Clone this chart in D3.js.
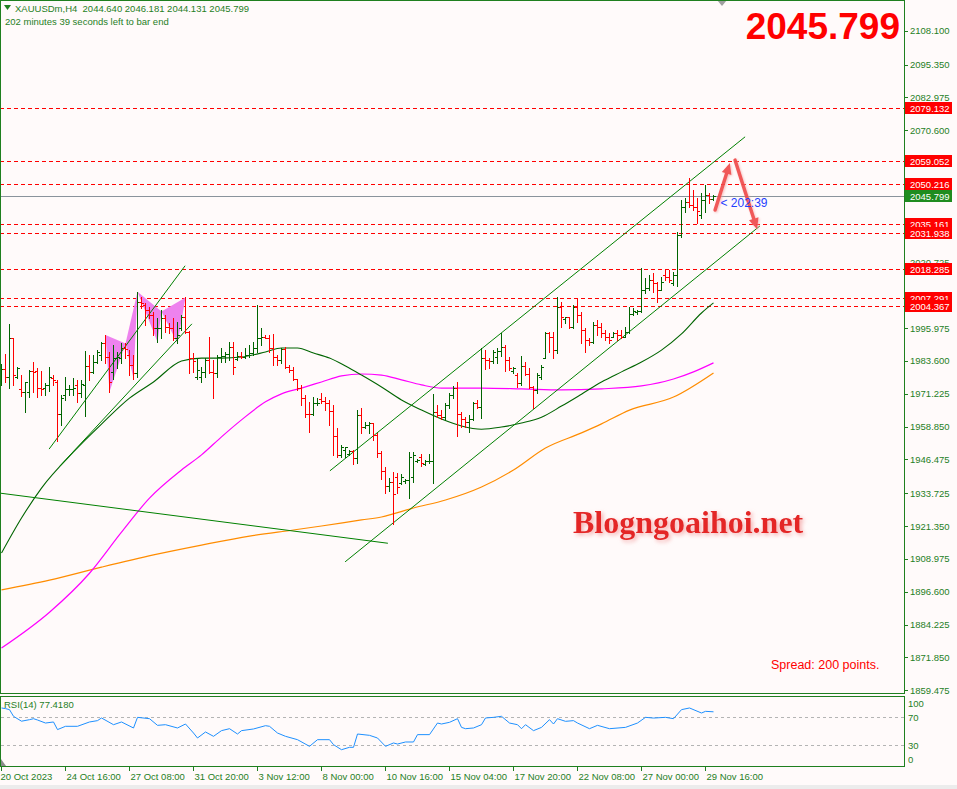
<!DOCTYPE html>
<html>
<head>
<meta charset="utf-8">
<script src="https://cdnjs.cloudflare.com/ajax/libs/d3/7.8.5/d3.min.js"></script>
<style>
body { margin: 0; background: #fffafa; }
text { font-family: "Liberation Sans", Arial, sans-serif; }
</style>
</head>
<body>
<div id="chart"></div>
<script>
// XAUUSDm H4 bars, [open, high, low, close], oldest first (20 Oct 2023 00:00 ...)
var bars = [
	[1976.0,1982.4,1974.5,1980.5],[1980.4,1986.2,1975.8,1977.6],[1977.6,1997.4,1973.3,1992.1],[1992.1,1992.4,1974.5,1978.3],
	[1977.6,1981.4,1977.2,1981.0],[1973.0,1978.5,1970.4,1971.8],[1971.8,1975.8,1964.5,1975.5],[1972.0,1980.2,1970.1,1979.8],
	[1979.8,1983.1,1972.0,1979.5],[1979.8,1980.8,1970.1,1973.5],[1973.3,1979.8,1970.7,1973.2],[1973.3,1975.2,1970.7,1974.5],
	[1974.5,1981.4,1972.2,1977.6],[1977.3,1978.3,1974.5,1976.4],[1975.8,1976.4,1953.5,1963.8],[1963.8,1970.7,1959.4,1969.5],
	[1970.7,1977.6,1968.9,1973.0],[1973.0,1974.5,1970.7,1973.2],[1973.0,1977.3,1970.7,1973.3],[1974.5,1976.4,1968.2,1971.4],
	[1971.4,1976.4,1970.1,1974.8],[1974.5,1987.3,1962.9,1981.7],[1981.7,1985.8,1976.4,1979.5],[1979.5,1985.8,1978.9,1983.1],
	[1983.1,1987.7,1983.0,1987.1],[1985.8,1990.8,1983.9,1990.2],[1990.2,1993.4,1982.7,1985.2],[1985.2,1987.1,1972.0,1975.8],
	[1979.5,1989.6,1977.0,1984.8],[1984.8,1987.1,1980.8,1985.0],[1984.8,1990.2,1982.7,1988.4],[1988.4,1990.2,1984.6,1988.1],
	[1985.8,1987.7,1978.3,1982.1],[1982.1,1985.8,1977.0,1978.9],[1978.9,2009.7,1977.6,2005.9],[2005.9,2007.8,2003.4,2005.6],
	[2004.7,2005.3,1997.1,2002.8],[2002.8,2004.0,1999.7,2000.9],[2000.9,2002.2,1993.4,1995.9],[1995.9,1999.7,1990.8,1996.2],
	[1995.9,2002.8,1992.1,1999.7],[1999.7,2000.9,1994.6,1996.5],[1996.5,1997.8,1994.0,1995.9],[1995.9,1999.7,1991.5,1992.1],
	[1992.1,1998.4,1990.2,1993.4],[1995.9,2000.9,1995.3,2000.3],[2000.3,2007.8,1994.0,1994.4],[1994.4,1994.9,1978.9,1984.8],
	[1984.8,1986.5,1979.5,1983.6],[1977.6,1984.6,1977.0,1980.2],[1977.6,1981.4,1975.5,1979.4],[1979.4,1984.6,1977.6,1983.9],
	[1983.9,1992.7,1978.9,1979.3],[1979.3,1983.9,1969.7,1978.9],[1978.9,1985.8,1977.6,1985.2],[1985.2,1988.4,1983.3,1985.6],
	[1985.6,1987.1,1983.3,1986.1],[1986.1,1990.8,1983.9,1988.9],[1988.9,1990.8,1978.7,1981.4],[1984.5,1987.1,1983.9,1985.5],
	[1985.5,1987.1,1984.6,1985.0],[1985.0,1988.4,1984.6,1985.8],[1985.8,1989.6,1985.2,1986.5],[1986.5,1990.8,1985.8,1988.4],
	[1988.4,2004.7,1987.1,1992.1],[1992.1,1995.9,1989.6,1992.7],[1992.7,1993.4,1992.1,1992.3],[1992.3,1993.4,1987.1,1988.6],
	[1988.6,1993.6,1982.1,1985.2],[1985.2,1985.8,1982.1,1983.9],[1983.9,1988.4,1982.7,1988.2],[1988.2,1988.9,1981.0,1981.4],
	[1981.4,1982.1,1979.5,1980.2],[1980.2,1981.4,1976.4,1977.0],[1977.0,1977.0,1972.6,1973.3],[1973.3,1974.5,1967.0,1969.5],
	[1969.5,1970.7,1962.6,1963.8],[1963.8,1968.2,1956.7,1963.6],[1963.6,1970.1,1963.2,1967.6],[1967.6,1969.5,1967.0,1967.8],
	[1969.2,1971.4,1967.6,1968.5],[1968.5,1970.1,1965.1,1967.6],[1967.6,1968.9,1959.4,1964.7],[1964.7,1967.0,1948.1,1955.4],
	[1955.4,1958.2,1947.5,1948.1],[1948.1,1951.9,1947.5,1951.3],[1950.0,1951.3,1947.5,1951.0],[1948.6,1950.0,1948.1,1949.6],
	[1949.6,1950.0,1944.6,1946.9],[1946.9,1965.1,1945.0,1963.2],[1963.2,1965.7,1956.3,1958.8],[1958.8,1960.7,1958.2,1959.5],
	[1959.5,1960.7,1956.3,1960.1],[1960.1,1960.1,1953.8,1955.7],[1955.7,1956.4,1947.4,1949.0],[1949.0,1949.5,1939.0,1942.0],
	[1942.0,1943.5,1934.0,1936.5],[1936.5,1939.5,1934.5,1938.0],[1938.0,1941.7,1922.3,1933.5],[1940.0,1941.3,1933.8,1936.0],
	[1937.8,1941.0,1937.4,1940.0],[1938.2,1939.0,1937.8,1938.6],[1938.6,1949.3,1931.9,1947.5],[1940.0,1949.3,1937.9,1948.0],
	[1945.8,1946.6,1945.5,1946.3],[1947.5,1948.5,1944.0,1945.0],[1944.8,1946.2,1944.3,1945.8],[1945.8,1948.5,1945.1,1946.0],
	[1946.0,1971.1,1937.6,1964.5],[1964.5,1967.0,1962.6,1963.2],[1963.2,1965.1,1961.9,1962.5],[1962.5,1967.6,1961.3,1967.0],
	[1967.0,1971.4,1965.7,1970.7],[1970.7,1974.1,1969.5,1973.6],[1973.6,1975.8,1955.4,1963.8],[1963.8,1964.5,1958.8,1961.9],
	[1961.9,1962.6,1958.8,1960.7],[1960.7,1963.2,1956.9,1961.9],[1961.9,1968.2,1961.3,1967.6],[1967.6,1968.9,1965.7,1966.1],
	[1966.1,1988.4,1962.3,1984.6],[1984.6,1987.7,1980.4,1983.9],[1983.9,1984.6,1980.8,1983.6],[1983.6,1987.7,1982.7,1987.1],
	[1985.0,1988.4,1982.7,1987.5],[1987.5,1994.2,1985.4,1989.0],[1989.0,1989.6,1979.9,1983.9],[1983.9,1985.2,1980.2,1980.8],
	[1980.0,1981.4,1978.9,1981.0],[1978.5,1978.9,1973.9,1975.2],[1975.2,1985.4,1974.5,1981.7],[1981.7,1983.3,1978.3,1978.7],
	[1978.7,1980.8,1973.3,1973.9],[1973.9,1974.1,1965.7,1972.6],[1972.6,1978.9,1971.4,1978.3],[1977.5,1982.1,1977.0,1981.4],
	[1984.8,1994.6,1984.6,1994.0],[1994.0,1994.6,1987.1,1992.7],[1992.7,1994.6,1984.6,1987.7],[1987.7,2007.8,1986.5,2004.0],
	[2004.0,2005.9,1996.5,2000.3],[1999.5,2000.3,1997.8,2000.0],[2000.0,2000.3,1995.9,1996.5],[1996.5,2004.7,1995.9,2004.0],
	[2004.0,2007.2,1998.4,2000.9],[2000.9,2002.2,1990.2,1995.3],[1995.3,1995.9,1987.1,1991.5],[1991.5,1992.1,1989.6,1990.8],
	[1990.8,1998.4,1990.2,1997.1],[1997.1,1999.0,1993.4,1996.5],[1996.5,1997.8,1992.7,1994.0],[1994.0,1995.3,1991.5,1992.7],
	[1992.7,1994.0,1990.2,1991.5],[1992.8,1994.6,1992.7,1994.0],[1994.0,1995.3,1991.5,1993.4],[1993.4,1995.3,1992.1,1992.7],
	[1992.7,1996.5,1992.5,1994.6],[1994.6,2004.0,1994.0,2001.5],[2001.5,2003.4,2000.9,2002.5],[2002.0,2002.8,2001.3,2002.5],
	[2002.5,2018.5,2002.2,2010.3],[2010.3,2014.8,2009.1,2011.0],[2011.0,2016.0,2010.3,2014.1],[2014.1,2016.6,2009.7,2012.9],
	[2012.9,2013.5,2005.9,2010.3],[2010.5,2015.4,2010.3,2013.5],[2016.0,2017.9,2014.1,2015.4],[2015.4,2017.9,2013.5,2014.1],
	[2013.0,2017.3,2012.2,2016.0],[2016.0,2032.3,2011.8,2031.1],[2031.1,2044.3,2030.4,2041.8],[2041.8,2044.9,2039.9,2043.6],
	[2043.6,2052.5,2041.8,2042.5],[2042.5,2048.0,2040.5,2041.8],[2041.8,2044.9,2035.5,2040.0],[2038.5,2046.8,2037.4,2044.3],
	[2044.3,2049.9,2039.9,2046.2],[2046.2,2046.8,2043.0,2044.6],[2044.640,2046.181,2044.131,2045.799]
];

// moving averages, [bar index, price]
var maGreen = [[0,1911.2],[5,1924.4],[10,1935.7],[18,1949.3],[25,1959.8],[32,1969.6],[38,1975.7],[45,1983.6],
	[50,1984.7],[55,1984.7],[60,1985.1],[66,1987.0],[70,1988.5],[74,1988.5],[78,1986.6],[82,1984.7],[86,1981.7],
	[90,1978.3],[95,1973.8],[100,1968.9],[105,1965.1],[110,1961.7],[115,1959.1],[120,1957.9],[125,1958.7],[130,1960.2],
	[135,1962.4],[140,1966.6],[145,1971.1],[150,1975.7],[155,1979.5],[160,1983.2],[165,1987.7],[170,1993.8],[175,2001.7],[178,2005.5]];
var maMagenta = [[0,1875.4],[12,1888.9],[22,1903.6],[30,1919.1],[37,1931.9],[45,1942.5],
	[50,1948.2],[55,1955.0],[60,1961.4],[66,1968.2],[70,1971.2],[75,1973.4],[80,1975.7],[85,1978.0],[90,1978.7],
	[95,1978.3],[100,1976.5],[105,1974.6],[110,1973.4],[120,1973.4],[130,1973.1],[140,1972.7],[150,1973.1],[160,1974.2],
	[168,1976.8],[173,1979.5],[178,1982.9]];
var maOrange = [[0,1897.3],[12,1901.0],[25,1905.9],[38,1910.5],[50,1914.2],[62,1917.6],[73,1919.9],[80,1921.4],
	[90,1923.7],[95,1924.8],[103,1928.2],[111,1931.2],[120,1936.1],[128,1942.5],[136,1950.8],[145,1956.5],[150,1959.9],
	[157,1965.1],[168,1970.0],[178,1979.1]];

// RSI(14), [bar index, value]
var rsi = [[0,82.9],[1,82],[2,80.5],[3,71],[5,64],[7,66.2],[8,67.6],[9,65.7],[11,61.4],[13,62.9],[14,52],[16,56.7],
	[19,56.7],[22,62.9],[24,64.8],[25,68.6],[28,59],[30,62.9],[33,54.3],[34,69.5],[37,67.6],[39,58.1],[41,59],[44,54.3],
	[46,60],[48,47.1],[49,40],[51,48.6],[53,42.4],[55,50.5],[57,53.3],[59,45.7],[60,50.5],[63,52.9],[66,57.6],[67,56.7],
	[69,47.1],[71,42.4],[74,37.6],[77,28.1],[79,37.6],[82,37.6],[83,30.5],[85,23.3],[87,26.7],[88,26.7],[89,45.7],
	[92,43.8],[94,40],[96,28.1],[98,32.9],[99,31.4],[101,34.3],[103,34.3],[104,44.8],[107,44.8],[109,61.4],[110,60],
	[112,62.4],[114,67.6],[115,55.2],[116,53.3],[118,54.3],[120,59],[121,68.6],[123,69.5],[125,71],[127,61.4],[129,59],
	[130,53.3],[131,59],[133,50.5],[135,55.2],[137,66.2],[138,60],[139,67.6],[141,63.8],[143,64.8],[144,61.4],[147,53.3],
	[149,58.1],[152,53.3],[156,55.2],[159,61.4],[161,69.5],[163,68.5],[166,69.5],[168,67.6],[170,80.5],[172,82.9],
	[175,75.7],[176,78.1],[178,77.418]];

var levels = [2079.132, 2059.052, 2050.216, 2035.161, 2031.938, 2018.285, 2007.291, 2004.367];
var lastPrice = 2045.799;
var priceTicks = [2108.100, 2095.350, 2082.975, 2070.600, 2058.225, 2045.850, 2033.475, 2020.725, 2008.350, 1995.975,
	1983.600, 1971.225, 1958.850, 1946.475, 1933.725, 1921.350, 1908.975, 1896.600, 1884.225, 1871.850, 1859.475];
var timeLabels = ["20 Oct 2023", "24 Oct 16:00", "27 Oct 08:00", "31 Oct 20:00", "3 Nov 12:00", "8 Nov 00:00",
	"10 Nov 16:00", "15 Nov 04:00", "17 Nov 20:00", "22 Nov 08:00", "27 Nov 00:00", "29 Nov 16:00"];
var rsiTicks = [100, 70, 30, 0];
var rsiLevels = [70, 30];

// drawn objects, [bar index, price]
var trendLines = [
	[[-0.4, 1933.8], [96.6, 1914.9]],
	[[11.9, 1950.4], [45.9, 2019.5]],
	[[14.6, 1944.0], [47.6, 1997.6]],
	[[82.1, 1942.2], [185.9, 2068.1]],
	[[85.9, 1907.9], [189.6, 2034.5]]
];
var patterns = [
	[[26, 1993.4], [27, 1972.0], [31, 1990.2]],
	[[31, 1990.2], [33, 1977.0], [34, 2009.7]],
	[[34, 2009.7], [39, 1990.8], [40, 2002.3]],
	[[40, 2002.3], [44, 1990.2], [46, 2007.5]]
];
var arrows = [
	[[178.4, 2040.5], [182.1, 2058.2]],
	[[183.4, 2059.3], [188.9, 2033.3]]
];

var W = 957, H = 789;
var axisX = 904;
var bg = "#fffafa";
var fg = "#1f7f1f";
var upColor = "#006400";
var downColor = "#ff0000";

var svg = d3.select("#chart").append("svg").attr("width", W).attr("height", H);
svg.append("rect").attr("width", W).attr("height", H).attr("fill", bg);
svg.append("rect").attr("y", 785).attr("width", W).attr("height", 4).attr("fill", "#ececec");

var x = d3.scaleLinear().domain([0, 178]).range([1.5, 713.5]);
var y = d3.scaleLinear().domain([1859.475, 2108.1]).range([690.3, 30.7]);
var yr = d3.scaleLinear().domain([0, 100]).range([766, 696]);

var defs = svg.append("defs");
defs.append("clipPath").attr("id", "mainClip").append("rect")
	.attr("x", 1).attr("y", 1).attr("width", axisX - 1).attr("height", 692);
var sh = defs.append("filter").attr("id", "glow").attr("x", "-10%").attr("y", "-30%").attr("width", "120%").attr("height", "160%");
sh.append("feDropShadow").attr("dx", 2).attr("dy", 2).attr("stdDeviation", 2)
	.attr("flood-color", "#f29a9a").attr("flood-opacity", 0.8);
var ag = defs.append("filter").attr("id", "soft").attr("x", "-50%").attr("y", "-50%").attr("width", "200%").attr("height", "200%");
ag.append("feDropShadow").attr("dx", 1).attr("dy", 1).attr("stdDeviation", 1.2)
	.attr("flood-color", "#f4a0a0").attr("flood-opacity", 0.7);

var g = svg.append("g").attr("clip-path", "url(#mainClip)");

// horizontal levels
g.selectAll(".level").data(levels).enter().append("line")
	.attr("x1", 0).attr("x2", axisX)
	.attr("y1", function(d) { return Math.round(y(d)) + 0.5; })
	.attr("y2", function(d) { return Math.round(y(d)) + 0.5; })
	.attr("stroke", "#ff0000").attr("stroke-dasharray", "4,3")
	.attr("shape-rendering", "crispEdges");

g.append("line")
	.attr("x1", 0).attr("x2", axisX)
	.attr("y1", Math.round(y(lastPrice)) + 0.5).attr("y2", Math.round(y(lastPrice)) + 0.5)
	.attr("stroke", "#8a939c").attr("shape-rendering", "crispEdges");

// harmonic pattern triangles
g.selectAll(".pattern").data(patterns).enter().append("polygon")
	.attr("points", function(d) {
		return d.map(function(p) { return x(p[0]) + "," + y(p[1]); }).join(" ");
	})
	.attr("fill", "#ee82ee");

// moving averages
var maLine = d3.line()
	.x(function(d) { return x(d[0]); })
	.y(function(d) { return y(d[1]); })
	.curve(d3.curveMonotoneX);

g.append("path").datum(maOrange).attr("d", maLine)
	.attr("fill", "none").attr("stroke", "#ff8c00").attr("stroke-width", 1.2);
g.append("path").datum(maMagenta).attr("d", maLine)
	.attr("fill", "none").attr("stroke", "#ff00ff").attr("stroke-width", 1.2);
g.append("path").datum(maGreen).attr("d", maLine)
	.attr("fill", "none").attr("stroke", "#006400").attr("stroke-width", 1.1);

// trend lines and channels
g.selectAll(".trend").data(trendLines).enter().append("line")
	.attr("x1", function(d) { return x(d[0][0]); })
	.attr("y1", function(d) { return y(d[0][1]); })
	.attr("x2", function(d) { return x(d[1][0]); })
	.attr("y2", function(d) { return y(d[1][1]); })
	.attr("stroke", "#008000").attr("stroke-width", 1);

// OHLC bars
g.append("g").attr("shape-rendering", "crispEdges")
	.selectAll("path").data(bars).enter().append("path")
	.attr("d", function(d, i) {
		var cx = Math.round(x(i) - 0.5) + 0.5;
		var yo = Math.round(y(d[0])) + 0.5, yc = Math.round(y(d[3])) + 0.5;
		return "M" + cx + "," + Math.round(y(d[1])) + "V" + (Math.round(y(d[2])) + 1) +
			"M" + (cx - 2.5) + "," + yo + "H" + cx +
			"M" + cx + "," + yc + "H" + (cx + 2.5);
	})
	.attr("fill", "none")
	.attr("stroke", function(d) { return d[3] >= d[0] ? upColor : downColor; })
	.attr("stroke-width", 1);

// arrows
var arrowColor = "#ef4b4b";
arrows.forEach(function(a) {
	var x1 = x(a[0][0]), y1 = y(a[0][1]), x2 = x(a[1][0]), y2 = y(a[1][1]);
	var ang = Math.atan2(y2 - y1, x2 - x1);
	var len = 11, wid = 5;
	var bx = x2 - len * Math.cos(ang), by = y2 - len * Math.sin(ang);
	var ar = g.append("g").attr("filter", "url(#soft)").attr("opacity", 0.92);
	ar.append("line")
		.attr("x1", x1).attr("y1", y1).attr("x2", bx).attr("y2", by)
		.attr("stroke", arrowColor).attr("stroke-width", 3.5).attr("stroke-linecap", "round");
	ar.append("polygon")
		.attr("points", [
			[x2, y2],
			[bx + wid * Math.sin(ang), by - wid * Math.cos(ang)],
			[bx - wid * Math.sin(ang), by + wid * Math.cos(ang)]
		].map(function(p) { return p.join(","); }).join(" "))
		.attr("fill", arrowColor);
});

// countdown
svg.append("text")
	.attr("x", x(178) + 7).attr("y", y(lastPrice) + 11)
	.attr("fill", "#1f3fff").style("font-size", "12px")
	.text("< 202:39");

// header
svg.append("path").attr("d", "M4,5 L11,5 L7.5,10 Z").attr("fill", fg);
svg.append("text").attr("x", 15).attr("y", 12).attr("fill", fg).style("font-size", "9.5px")
	.attr("xml:space", "preserve")
	.text("XAUUSDm,H4  2044.640 2046.181 2044.131 2045.799");
svg.append("text").attr("x", 5).attr("y", 25).attr("fill", fg).style("font-size", "9.5px")
	.text("202 minutes 39 seconds left to bar end");

svg.append("path").attr("d", "M717,0 L727,0 L722,6 Z").attr("fill", "#a0a0a0");

svg.append("text").attr("x", 900).attr("y", 39).attr("text-anchor", "end")
	.attr("fill", "#ff0000").style("font-size", "37px").style("font-weight", "bold")
	.text("2045.799");

svg.append("text").attr("x", 573).attr("y", 533)
	.attr("fill", "#e42626").attr("filter", "url(#glow)")
	.style("font-family", "'Liberation Serif', 'Times New Roman', serif")
	.style("font-size", "32px").style("font-weight", "bold")
	.text("Blogngoaihoi.net");

svg.append("text").attr("x", 771).attr("y", 669).attr("fill", "#ff0000").style("font-size", "12.5px")
	.text("Spread: 200 points.");

// frames
svg.append("rect").attr("x", 0.5).attr("y", 0.5).attr("width", axisX).attr("height", 693)
	.attr("fill", "none").attr("stroke", fg).attr("shape-rendering", "crispEdges");
svg.append("rect").attr("x", 0.5).attr("y", 696.5).attr("width", axisX).attr("height", 70)
	.attr("fill", "none").attr("stroke", fg).attr("shape-rendering", "crispEdges");

// price axis; tick labels sitting right under a level box are hidden like in the terminal
var boxes = levels.map(function(d) { return {p: d, c: "#ff0000"}; });
boxes.push({p: lastPrice, c: "#1f8c1f"});
var shownTicks = priceTicks.filter(function(t) {
	return !boxes.some(function(b) { return Math.abs(y(b.p) - y(t)) < 5; });
});

var pa = svg.append("g");
pa.selectAll("line").data(priceTicks).enter().append("line")
	.attr("x1", axisX).attr("x2", axisX + 4)
	.attr("y1", function(d) { return Math.round(y(d)) + 0.5; })
	.attr("y2", function(d) { return Math.round(y(d)) + 0.5; })
	.attr("stroke", fg).attr("shape-rendering", "crispEdges");
pa.selectAll("text").data(shownTicks).enter().append("text")
	.attr("x", axisX + 6).attr("y", function(d) { return y(d) + 3.5; })
	.attr("fill", fg).style("font-size", "9.5px")
	.text(function(d) { return d3.format(".3f")(d); });

var bx = svg.append("g").selectAll("g").data(boxes).enter().append("g");
bx.append("rect")
	.attr("x", axisX + 1).attr("y", function(d) { return Math.round(y(d.p)) - 6; })
	.attr("width", 47).attr("height", 12)
	.attr("fill", function(d) { return d.c; });
bx.append("text")
	.attr("x", axisX + 6).attr("y", function(d) { return Math.round(y(d.p)) + 4; })
	.attr("fill", "#ffffff").style("font-size", "9.5px")
	.text(function(d) { return d3.format(".3f")(d.p); });

// RSI panel
var rg = svg.append("g");
rg.selectAll(".rl").data(rsiLevels).enter().append("line")
	.attr("x1", 1).attr("x2", axisX)
	.attr("y1", function(d) { return Math.round(yr(d)) + 0.5; })
	.attr("y2", function(d) { return Math.round(yr(d)) + 0.5; })
	.attr("stroke", "#b4b4b4").attr("stroke-dasharray", "3,3")
	.attr("shape-rendering", "crispEdges");
rg.append("path").datum(rsi)
	.attr("d", d3.line().x(function(d) { return x(d[0]); }).y(function(d) { return yr(d[1]); }))
	.attr("fill", "none").attr("stroke", "#1e90ff").attr("stroke-width", 1);
rg.append("text").attr("x", 4).attr("y", 708).attr("fill", fg).style("font-size", "9.5px")
	.text("RSI(14) " + d3.format(".4f")(rsi[rsi.length - 1][1]));
rg.append("path").attr("d", "M1,766 L1,759 L6,766 Z").attr("fill", "#8c8c8c");

rg.selectAll(".rt").data(rsiTicks).enter().append("text")
	.attr("x", axisX + 4)
	.attr("y", function(d) {
		var yy = yr(d);
		if (d === 100) yy = 703;
		if (d === 0) yy = 759;
		return yy + 3.5;
	})
	.attr("fill", fg).style("font-size", "9.5px")
	.text(function(d) { return d; });

// time axis
var ta = svg.append("g");
ta.selectAll("line").data(timeLabels).enter().append("line")
	.attr("x1", function(d, i) { return Math.round(x(i * 16) - 0.5) + 0.5; })
	.attr("x2", function(d, i) { return Math.round(x(i * 16) - 0.5) + 0.5; })
	.attr("y1", 767).attr("y2", 771)
	.attr("stroke", fg).attr("shape-rendering", "crispEdges");
ta.selectAll("text").data(timeLabels).enter().append("text")
	.attr("x", function(d, i) { return x(i * 16) + (i === 0 ? -1 : 1); })
	.attr("y", 780)
	.attr("fill", fg).style("font-size", "9.5px")
	.text(function(d) { return d; });
</script>
</body>
</html>
